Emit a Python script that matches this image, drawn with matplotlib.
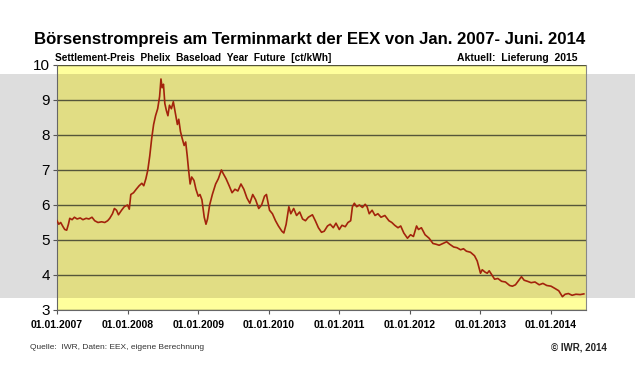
import matplotlib
matplotlib.use("Agg")
import matplotlib.pyplot as plt
import matplotlib.dates as mdates
import matplotlib.transforms as mtransforms
from matplotlib.patches import Rectangle
import pandas as pd

plt.rcParams['font.family'] = ['Liberation Sans', 'DejaVu Sans']

# Settlement price Phelix Baseload Year Future (ct/kWh)
dates = [
    "2007-01-01", "2007-01-10", "2007-01-20", "2007-02-01", "2007-02-10", "2007-02-20",
    "2007-03-01", "2007-03-08", "2007-03-20", "2007-04-01", "2007-04-15", "2007-05-01",
    "2007-05-15", "2007-06-01", "2007-06-15", "2007-07-01", "2007-07-15", "2007-08-01",
    "2007-08-20", "2007-09-05", "2007-09-20", "2007-10-01", "2007-10-15", "2007-10-25",
    "2007-11-05", "2007-11-15", "2007-12-01", "2007-12-15", "2008-01-01", "2008-01-10",
    "2008-01-18", "2008-02-01", "2008-02-15", "2008-03-01", "2008-03-15", "2008-03-25",
    "2008-04-05", "2008-04-15", "2008-04-25", "2008-05-05", "2008-05-15", "2008-05-25",
    "2008-06-05", "2008-06-15", "2008-06-22", "2008-06-28", "2008-07-05", "2008-07-12",
    "2008-07-20", "2008-07-28", "2008-08-05", "2008-08-15", "2008-08-25", "2008-09-05",
    "2008-09-15", "2008-09-22", "2008-10-01", "2008-10-10", "2008-10-20", "2008-10-28",
    "2008-11-05", "2008-11-12", "2008-11-20", "2008-11-28", "2008-12-10", "2008-12-20",
    "2009-01-01", "2009-01-10", "2009-01-20", "2009-02-01", "2009-02-10", "2009-02-18",
    "2009-03-01", "2009-03-15", "2009-04-01", "2009-04-15", "2009-05-01", "2009-05-10",
    "2009-05-25", "2009-06-10", "2009-06-25", "2009-07-10", "2009-07-25", "2009-08-10",
    "2009-08-25", "2009-09-10", "2009-09-25", "2009-10-10", "2009-10-25", "2009-11-10",
    "2009-11-25", "2009-12-10", "2009-12-20", "2010-01-05", "2010-01-20", "2010-02-05",
    "2010-02-20", "2010-03-10", "2010-03-20", "2010-04-01", "2010-04-15", "2010-04-25",
    "2010-05-10", "2010-05-25", "2010-06-10", "2010-06-25", "2010-07-10", "2010-07-25",
    "2010-08-15", "2010-08-30", "2010-09-15", "2010-10-01", "2010-10-15", "2010-11-01",
    "2010-11-15", "2010-12-01", "2010-12-15", "2011-01-01", "2011-01-15", "2011-02-01",
    "2011-02-15", "2011-03-01", "2011-03-10", "2011-03-20", "2011-04-01", "2011-04-15",
    "2011-05-01", "2011-05-15", "2011-05-25", "2011-06-05", "2011-06-20", "2011-07-05",
    "2011-07-20", "2011-08-05", "2011-08-25", "2011-09-15", "2011-09-30", "2011-10-15",
    "2011-11-01", "2011-11-15", "2011-12-01", "2011-12-20", "2012-01-05", "2012-01-20",
    "2012-02-05", "2012-02-15", "2012-03-01", "2012-03-20", "2012-04-10", "2012-04-30",
    "2012-05-15", "2012-06-01", "2012-06-20", "2012-07-10", "2012-07-25", "2012-08-15",
    "2012-09-01", "2012-09-20", "2012-10-05", "2012-10-20", "2012-11-10", "2012-12-01",
    "2012-12-15", "2013-01-01", "2013-01-10", "2013-01-25", "2013-02-05", "2013-02-15",
    "2013-03-01", "2013-03-15", "2013-04-01", "2013-04-20", "2013-05-10", "2013-06-01",
    "2013-06-15", "2013-07-01", "2013-08-01", "2013-08-15", "2013-09-01", "2013-09-20",
    "2013-10-10", "2013-11-01", "2013-11-20", "2013-12-10", "2014-01-01", "2014-01-20",
    "2014-02-10", "2014-03-01", "2014-03-15", "2014-04-01", "2014-04-20", "2014-05-10",
    "2014-06-01", "2014-06-20",
]
prices = [
    5.55, 5.45, 5.50, 5.38, 5.30, 5.28,
    5.45, 5.62, 5.58, 5.65, 5.60, 5.63,
    5.58, 5.62, 5.60, 5.65, 5.55, 5.50,
    5.52, 5.50, 5.55, 5.62, 5.75, 5.90,
    5.85, 5.72, 5.85, 5.95, 6.00, 5.88,
    6.30, 6.35, 6.45, 6.55, 6.62, 6.55,
    6.75, 7.00, 7.40, 7.90, 8.30, 8.55,
    8.75, 9.10, 9.60, 9.35, 9.45, 8.90,
    8.70, 8.55, 8.85, 8.75, 8.95, 8.60,
    8.30, 8.45, 8.10, 7.90, 7.70, 7.80,
    7.40, 7.00, 6.60, 6.80, 6.70, 6.45,
    6.25, 6.30, 6.15, 5.65, 5.45, 5.60,
    6.00, 6.30, 6.60, 6.75, 7.00, 6.90,
    6.75, 6.55, 6.35, 6.45, 6.40, 6.60,
    6.45, 6.20, 6.05, 6.30, 6.15, 5.90,
    6.00, 6.25, 6.30, 5.85, 5.75, 5.55,
    5.40, 5.25, 5.20, 5.45, 5.95, 5.75,
    5.90, 5.70, 5.80, 5.60, 5.55, 5.65,
    5.72, 5.55, 5.35, 5.22, 5.25, 5.40,
    5.45, 5.35, 5.48, 5.30, 5.42, 5.38,
    5.50, 5.55, 5.95, 6.05, 5.95, 6.00,
    5.93, 6.02, 5.95, 5.75, 5.85, 5.70,
    5.75, 5.65, 5.70, 5.55, 5.50, 5.42,
    5.35, 5.40, 5.20, 5.05, 5.15, 5.10,
    5.40, 5.30, 5.35, 5.15, 5.05, 4.90,
    4.88, 4.85, 4.90, 4.95, 4.88, 4.80,
    4.78, 4.72, 4.75, 4.68, 4.65, 4.55,
    4.40, 4.05, 4.15, 4.08, 4.05, 4.12,
    4.00, 3.88, 3.90, 3.82, 3.80, 3.70,
    3.68, 3.72, 3.95, 3.85, 3.82, 3.78,
    3.80, 3.72, 3.76, 3.70, 3.68, 3.62,
    3.55, 3.38, 3.45, 3.47, 3.42, 3.45,
    3.44, 3.46,
]
tick_years = [2007, 2008, 2009, 2010, 2011, 2012, 2013, 2014]

x = pd.to_datetime(dates)

fig = plt.figure(figsize=(6.35, 3.72), dpi=100)
fig.patch.set_facecolor('white')

# grey band across the whole picture, behind the axes
fig.patches.append(Rectangle((0, 0.199), 1, 0.602, transform=fig.transFigure,
                             facecolor='#dddddd', edgecolor='none', zorder=-5))

ax = fig.add_axes([0.0898, 0.1667, 0.833, 0.6586])
ax.set_facecolor('#ffff9c')
trans = mtransforms.blended_transform_factory(ax.transAxes, fig.transFigure)
ax.add_patch(Rectangle((0, 0.199), 1, 0.602, transform=trans,
                       facecolor='#e1dd84', edgecolor='none', zorder=0.5))

ax.plot(x, prices, color='#a3230c', linewidth=1.2, zorder=3)

ax.set_ylim(3, 10)
ax.set_yticks(range(3, 11))
ax.set_xlim(pd.Timestamp('2007-01-01'), pd.Timestamp('2014-07-01'))
ax.set_xticks([pd.Timestamp(f'{y}-01-01') for y in tick_years])
ax.xaxis.set_major_formatter(mdates.DateFormatter('%d.%m.%Y'))

ax.grid(axis='y', color='#55553a', linewidth=1.0, zorder=1)
ax.set_axisbelow(True)
ax.tick_params(axis='y', labelsize=11, length=3, color='#555555', pad=2)
ax.tick_params(axis='x', labelsize=7.5, length=3, color='#555555', pad=4)
for lab in ax.get_xticklabels():
    lab.set_fontweight('bold')
for side in ['left', 'bottom']:
    ax.spines[side].set_color('#666666')
ax.spines['right'].set_color('#888888')
ax.spines['top'].set_visible(False)

fig.text(0.488, 0.895, 'Börsenstrompreis am Terminmarkt der EEX von Jan. 2007- Juni. 2014',
         ha='center', va='center', fontsize=12.1, fontweight='bold')
fig.text(0.087, 0.845, 'Settlement-Preis  Phelix  Baseload  Year  Future  [ct/kWh]',
         ha='left', va='center', fontsize=7.3, fontweight='bold',
         family=['Liberation Sans Narrow', 'Liberation Sans'])
fig.text(0.909, 0.845, 'Aktuell:  Lieferung  2015',
         ha='right', va='center', fontsize=7.5, fontweight='bold',
         family=['Liberation Sans Narrow', 'Liberation Sans'])
fig.text(0.047, 0.067, 'Quelle:  IWR, Daten: EEX, eigene Berechnung',
         ha='left', va='center', fontsize=6, color='#333333',
         family=['Liberation Sans Narrow', 'Liberation Sans'])
fig.text(0.955, 0.067, '© IWR, 2014',
         ha='right', va='center', fontsize=7, fontweight='bold', color='#222222')

fig.savefig('out.png', dpi=100)
